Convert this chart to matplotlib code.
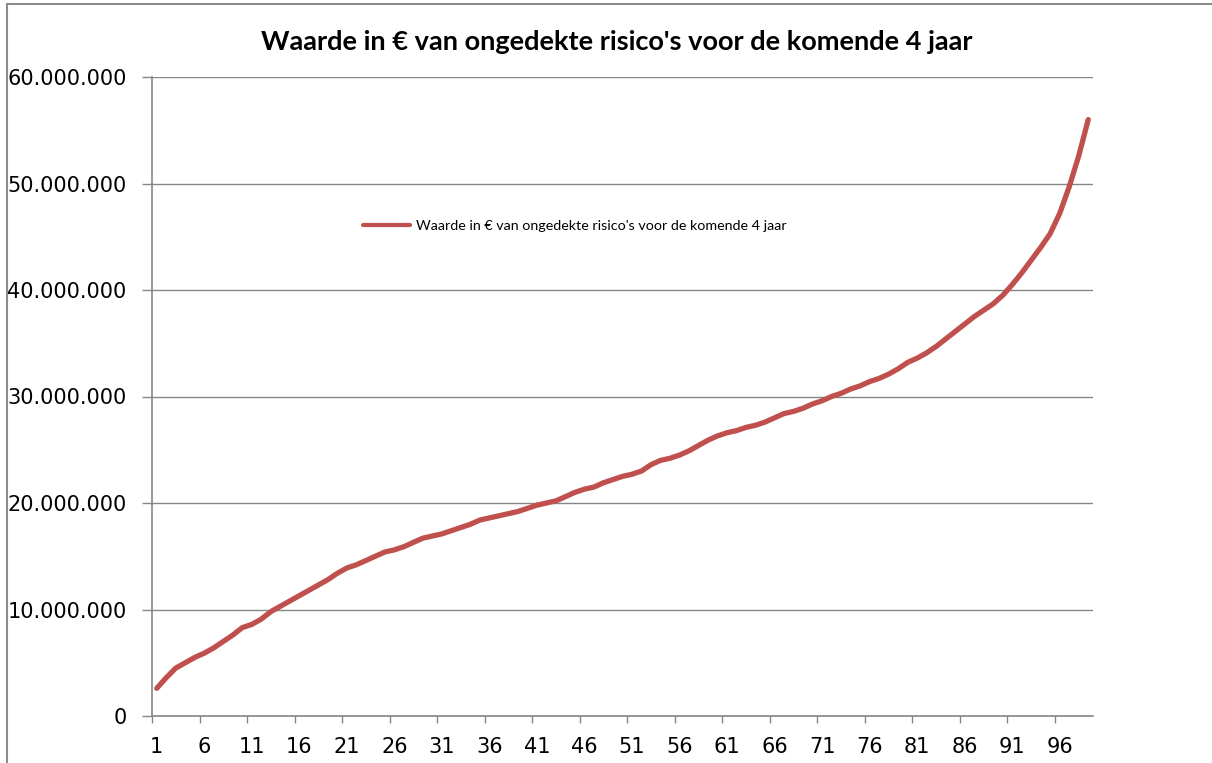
import matplotlib
matplotlib.use("Agg")
import matplotlib.pyplot as plt
from matplotlib.lines import Line2D
import numpy as np

title = "Waarde in € van ongedekte risico's voor de komende 4 jaar"
series_name = "Waarde in € van ongedekte risico's voor de komende 4 jaar"

# waarde in miljoen euro, per categorie 1..99
values_m = [
    2.6, 3.6, 4.5, 5.0, 5.5, 5.9, 6.4, 7.0, 7.6, 8.3,
    8.6, 9.1, 9.8, 10.3, 10.8, 11.3, 11.8, 12.3, 12.8, 13.4,
    13.9, 14.2, 14.6, 15.0, 15.4, 15.6, 15.9, 16.3, 16.7, 16.9,
    17.1, 17.4, 17.7, 18.0, 18.4, 18.6, 18.8, 19.0, 19.2, 19.5,
    19.8, 20.0, 20.2, 20.6, 21.0, 21.3, 21.5, 21.9, 22.2, 22.5,
    22.7, 23.0, 23.6, 24.0, 24.2, 24.5, 24.9, 25.4, 25.9, 26.3,
    26.6, 26.8, 27.1, 27.3, 27.6, 28.0, 28.4, 28.6, 28.9, 29.3,
    29.6, 30.0, 30.3, 30.7, 31.0, 31.4, 31.7, 32.1, 32.6, 33.2,
    33.6, 34.1, 34.7, 35.4, 36.1, 36.8, 37.5, 38.1, 38.7, 39.5,
    40.5, 41.6, 42.8, 44.0, 45.3, 47.2, 49.7, 52.6, 56.0,
]
categories = list(range(1, len(values_m) + 1))
x_labels = categories[::5]
y_ticks = [0, 10000000, 20000000, 30000000, 40000000, 50000000, 60000000]

values = np.array(values_m) * 1e6
grey = '#868686'

fig = plt.figure(figsize=(12.12, 7.63), dpi=100)
ax = fig.add_axes([152/1212, 1 - 716/763, (1093-152)/1212, (716-77)/763])

ax.plot(categories, values, color='#C0504D', lw=3.8, solid_capstyle='round',
        solid_joinstyle='round', label=series_name)

ax.set_xlim(0.5, len(categories) + 0.5)
ax.set_ylim(0, 60000000)
ax.set_yticks(y_ticks)
ax.set_yticklabels([f"{v:,.0f}".replace(',', '.') for v in y_ticks])
ax.yaxis.grid(True, color=grey, lw=1.0)
ax.set_axisbelow(True)

# Excel-stijl: ticks tussen categorieen, labels in het midden
ax.set_xticks([c - 0.5 for c in x_labels])
ax.set_xticklabels([])
ax.set_xticks(x_labels, minor=True)
ax.set_xticklabels([str(c) for c in x_labels], minor=True)
ax.tick_params(axis='x', which='major', length=5, width=1, color=grey, direction='out')
ax.tick_params(axis='x', which='minor', length=0, pad=15, labelsize=15)
ax.tick_params(axis='y', length=7.2, width=1, color=grey, pad=11, labelsize=15)

for s in ['top', 'right']:
    ax.spines[s].set_visible(False)
for s in ['left', 'bottom']:
    ax.spines[s].set_color(grey)
    ax.spines[s].set_linewidth(1.2)

fig.text(617/1212, 1 - 42/763, title, ha='center', va='center',
         fontsize=19.5, fontweight='bold', family='Lato')

leg = ax.legend(loc='center left', bbox_to_anchor=(350/1212, 1 - 226/763),
                bbox_transform=fig.transFigure, frameon=False,
                prop={'family': 'Lato', 'size': 10.3}, handlelength=3.3,
                handletextpad=0.4)
for l in leg.get_lines():
    l.set_linewidth(3)

# kader van de grafiek (links en boven zichtbaar)
fig.add_artist(Line2D([7/1212, 7/1212], [0, 1 - 4/763], color='#8c8c8c', lw=1.5))
fig.add_artist(Line2D([7/1212, 1], [1 - 4/763, 1 - 4/763], color='#8c8c8c', lw=1.5))

fig.savefig('out.png', dpi=100)
